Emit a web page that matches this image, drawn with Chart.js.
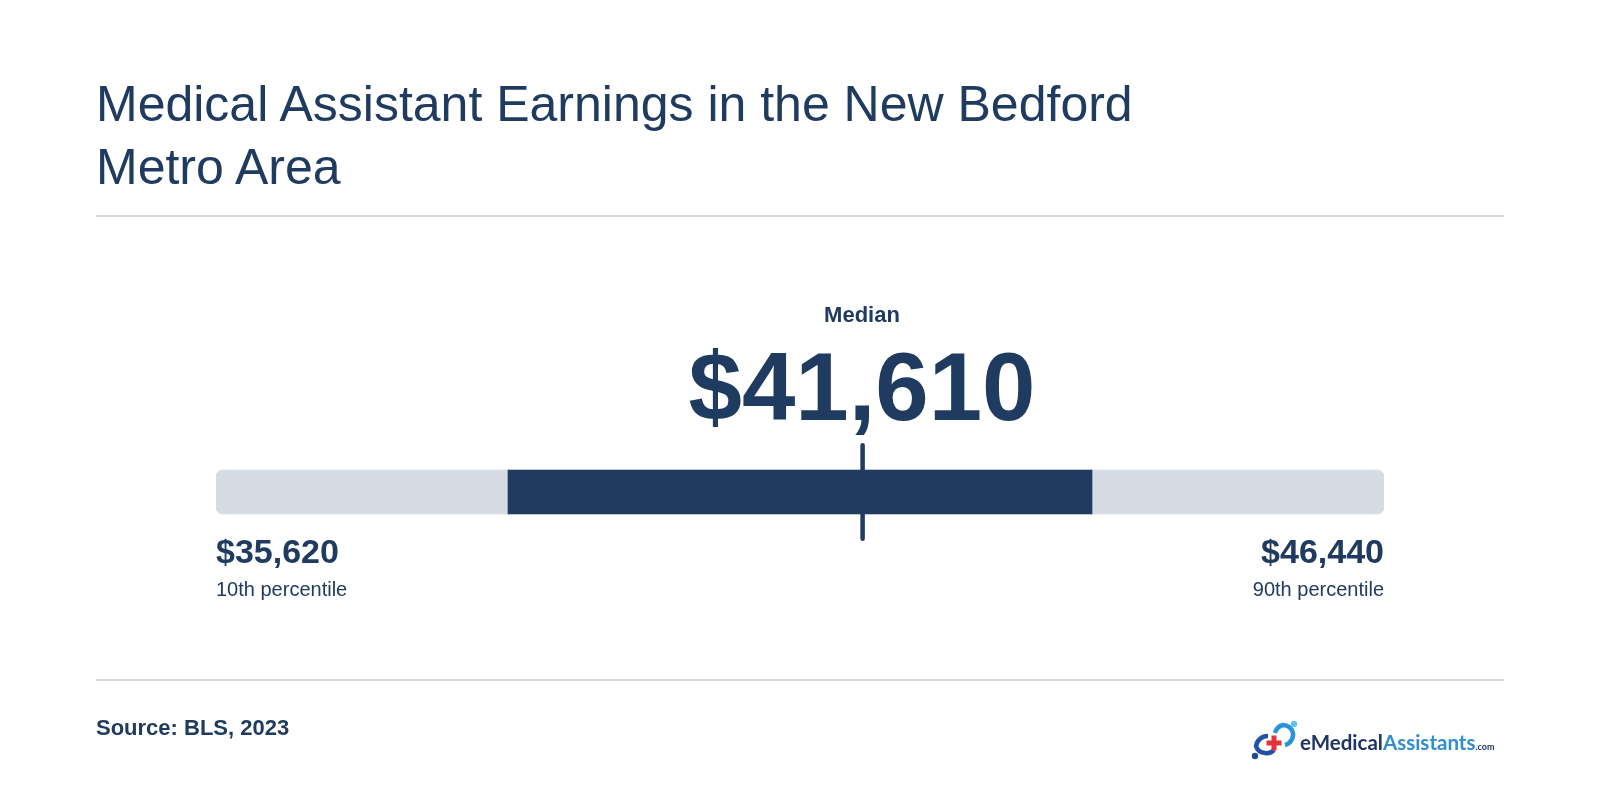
<!DOCTYPE html>
<html><head><meta charset="utf-8">
<script src="https://cdn.jsdelivr.net/npm/chart.js@4"></script>
<style>
html,body{margin:0;padding:0;background:#fff;width:1600px;height:800px;overflow:hidden}
body{position:relative;font-family:"Liberation Sans",Arial,sans-serif;color:#1f3b60}
canvas{position:absolute;left:0;top:0}
.t{position:absolute;white-space:nowrap;line-height:1}
.rule{position:absolute;left:96px;width:1408px;height:2px;background:#d6dae0}
</style></head><body>
<canvas id="c" width="1600" height="800" style="width:1600px;height:800px"></canvas>
<div class="t" id="title" style="left:96px;top:73px;font-size:50px;line-height:63px;white-space:normal;width:1100px"></div>
<div class="rule" style="top:215px"></div>
<div class="rule" style="top:679px"></div>
<div class="t" id="medL" style="left:762px;width:200px;text-align:center;top:304px;font-size:22px;font-weight:bold"></div>
<div class="t" id="medV" style="left:662px;width:400px;text-align:center;top:339px;font-size:96px;font-weight:bold"></div>
<div class="t" id="lowV" style="left:216px;top:534px;font-size:34px;font-weight:bold"></div>
<div class="t" id="lowL" style="left:216px;top:579px;font-size:20px"></div>
<div class="t" id="highV" style="right:216px;top:534px;font-size:34px;font-weight:bold"></div>
<div class="t" id="highL" style="right:216px;top:579px;font-size:20px"></div>
<div class="t" id="src" style="left:96px;top:717px;font-size:22px;font-weight:bold"></div>
<svg style="position:absolute;left:1250px;top:718px" width="50" height="44" viewBox="0 0 50 44">
<path d="M18 18 A12 12 0 0 0 6 28 A10 10 0 0 0 15 35 A10 10 0 0 0 24 32" fill="none" stroke="#2350a8" stroke-width="4.5"/>
<path d="M25 15 A11 11 0 0 1 33 7 A10 10 0 0 1 43 15 A11 11 0 0 1 35 27" fill="none" stroke="#2a93dc" stroke-width="4.5"/>
<circle cx="44" cy="6" r="3.2" fill="#62c3f2"/>
<circle cx="5" cy="38" r="3.2" fill="#1f4a9a"/>
<path d="M21.5 17.5h5v5h5v5h-5v5h-5v-5h-5v-5h5z" fill="#e4323c"/>
</svg>
<div class="t" style="left:1300px;top:732px;font-family:Lato,'Noto Sans',sans-serif;font-size:20.5px;font-weight:bold"><span id="lg1" style="color:#1f3564"></span><span id="lg2" style="color:#2f8dd0"></span><span id="lg3" style="color:#1f3564;font-size:9px"></span></div>
<script>
const titleText = "Medical Assistant Earnings in the New Bedford Metro Area";
const sourceText = "Source: BLS, 2023";
const medianLabel = "Median";
const lowLabel = "10th percentile";
const highLabel = "90th percentile";
const logoParts = ["eMedical", "Assistants", ".com"];
const categories = ["Earnings"];
const p10 = 35620;
const p90 = 46440;
const median = 41610;
const bandLow = 38325;
const bandHigh = 43735;
const tickSpan = [-1, 1];

const money = v => "$" + v.toLocaleString("en-US");
const set = (id, s) => document.getElementById(id).textContent = s;
set("title", titleText); set("src", sourceText);
set("medL", medianLabel); set("medV", money(median));
set("lowV", money(p10)); set("lowL", lowLabel);
set("highV", money(p90)); set("highL", highLabel);
logoParts.forEach((s, i) => set("lg" + (i + 1), s));

new Chart(document.getElementById("c"), {
  type: "bar",
  data: {
    labels: categories,
    datasets: [
      { type: "scatter", label: "Median", order: 0, xAxisID: "x", yAxisID: "yTick", showLine: true,
        data: tickSpan.map(y => ({ x: median, y })), borderColor: "#1f3b60", borderWidth: 4.5,
        borderCapStyle: "round", pointRadius: 0, clip: false },
      { label: "Middle range", order: 1, yAxisID: "y", xAxisID: "x", data: [[bandLow, bandHigh]],
        backgroundColor: "#1f3b60", barThickness: 44, grouped: false, borderWidth: 0 },
      { label: "Range", order: 2, yAxisID: "y", xAxisID: "x", data: [[p10, p90]],
        backgroundColor: "#d6dae3", barThickness: 44, grouped: false, borderRadius: 7, borderSkipped: false, borderWidth: 0 }
    ]
  },
  options: {
    indexAxis: "y",
    responsive: false,
    animation: false,
    layout: { padding: { left: 216, right: 216, top: 445, bottom: 800 - 539 } },
    plugins: { legend: { display: false }, tooltip: { enabled: false }, title: { display: false } },
    scales: {
      x: { type: "linear", axis: "x", min: p10, max: p90, display: false },
      y: { type: "category", axis: "y", display: false },
      yTick: { type: "linear", axis: "y", min: -0.806, max: 0.806, display: false }
    }
  }
});
</script>
</body></html>
